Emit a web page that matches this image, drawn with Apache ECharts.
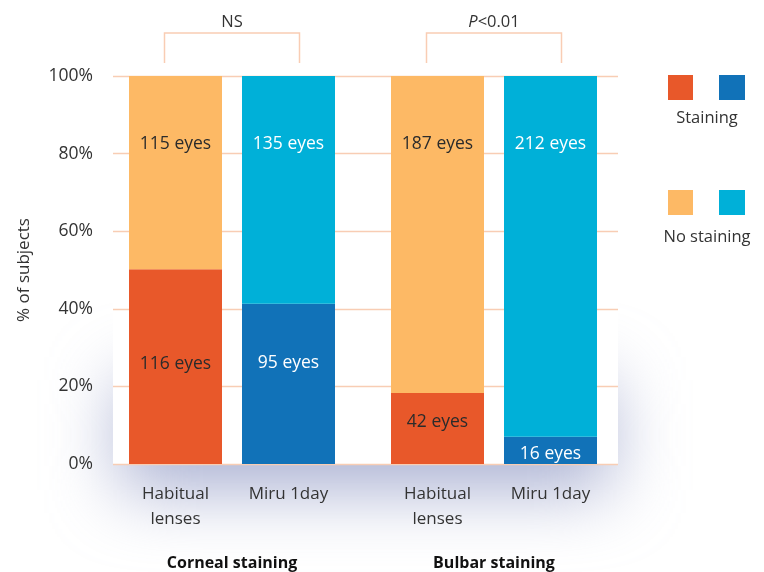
<!DOCTYPE html>
<html>
<head>
<meta charset="utf-8">
<script src="https://cdn.jsdelivr.net/npm/echarts@6/dist/echarts.min.js"></script>
<style>
html,body{margin:0;padding:0;background:#fff}
#wrap{position:relative;width:764px;height:572px;overflow:hidden;background:#fff}
/* soft bluish glow behind the plot panel */
#glow{position:absolute;left:120px;top:380px;width:490px;height:110px;
      background:rgba(140,150,195,0.75);filter:blur(35px)}
#panel{position:absolute;left:113px;top:76px;width:505px;height:388px;background:#fff}
#main{position:absolute;left:0;top:0;width:764px;height:572px}
</style>
</head>
<body>
<div id="wrap">
<div id="glow"></div>
<div id="panel"></div>
<div id="main"></div>
</div>
<script>
// categories
var lensNames = ['Habitual\nlenses', 'Miru 1day'];
var groupNames = ['Corneal staining', 'Bulbar staining'];
var pLabels = ['NS', '{i|P}<0.01'];

// % of subjects
var cornealStain = [50.2, 41.3];
var cornealNoStain = [49.8, 58.7];
var bulbarStain = [18.3, 7.0];
var bulbarNoStain = [81.7, 93.0];

// eye counts written on the bars
var cornealStainEyes = [116, 95];
var cornealNoStainEyes = [115, 135];
var bulbarStainEyes = [42, 16];
var bulbarNoStainEyes = [187, 212];

var stainColors = ['#e8582a', '#1172b8'];
var noStainColors = ['#fdb965', '#00b0d8'];
var stainText = ['#2b2b2b', '#ffffff'];
var noStainText = ['#2b2b2b', '#ffffff'];

var FONT = 'Open Sans';
var GRID_TOP = 76, GRID_BOTTOM = 108;

var chart = echarts.init(document.getElementById('main'));

function buildSeries(gi, stain, noStain, stainEyes, noStainEyes, offs) {
    var sData = [], nData = [];
    for (var i = 0; i < stain.length; i++) {
        sData.push({
            value: stain[i],
            itemStyle: {color: stainColors[i]},
            label: {color: stainText[i], offset: offs[i]},
            eyes: stainEyes[i]
        });
        nData.push({
            value: noStain[i],
            itemStyle: {color: noStainColors[i]},
            label: {color: noStainText[i]},
            eyes: noStainEyes[i]
        });
    }
    var fmt = function (p) { return p.data.eyes + ' eyes'; };
    return [{
        name: 'Staining',
        type: 'bar',
        stack: 'g' + gi,
        xAxisIndex: gi,
        yAxisIndex: gi,
        barWidth: 93,
        data: sData,
        label: {show: true, position: 'inside', fontFamily: FONT, fontSize: 17.5, formatter: fmt}
    }, {
        name: 'No staining',
        type: 'bar',
        stack: 'g' + gi,
        xAxisIndex: gi,
        yAxisIndex: gi,
        barWidth: 93,
        data: nData,
        label: {show: true, position: 'insideTop', distance: 59, fontFamily: FONT, fontSize: 17.5, formatter: fmt}
    }];
}

function groupXAxis(gi, name) {
    return {
        gridIndex: gi,
        type: 'category',
        data: lensNames,
        axisLine: {show: false},
        axisTick: {show: false},
        axisLabel: {fontFamily: FONT, fontSize: 17, color: '#333', margin: 18, lineHeight: 25},
        name: name,
        nameLocation: 'middle',
        nameGap: 91,
        nameTextStyle: {fontFamily: FONT, fontSize: 16, fontWeight: 'bold', color: '#111'}
    };
}

function hiddenY(gi) {
    return {gridIndex: gi, type: 'value', min: 0, max: 100, show: false};
}

function gridAt(left, width) {
    var o = {top: GRID_TOP, bottom: GRID_BOTTOM, left: left, outerBoundsMode: 'none', containLabel: false};
    if (width) o.width = width; else o.right = 146;
    return o;
}

var series = []
    .concat(buildSeries(1, cornealStain, cornealNoStain, cornealStainEyes, cornealNoStainEyes, [[0, -3], [0, -21]]))
    .concat(buildSeries(2, bulbarStain, bulbarNoStain, bulbarStainEyes, bulbarNoStainEyes, [[0, -6], [0, 4]]));

chart.setOption({
    animation: false,
    textStyle: {fontFamily: FONT},
    grid: [gridAt(113), gridAt(119, 226), gridAt(381, 226)],
    xAxis: [
        {gridIndex: 0, type: 'value', show: false},
        groupXAxis(1, groupNames[0]),
        groupXAxis(2, groupNames[1])
    ],
    yAxis: [
        {
            gridIndex: 0,
            type: 'value',
            min: 0, max: 100, interval: 20,
            axisLine: {show: false},
            axisTick: {show: false},
            axisLabel: {formatter: '{value}%', fontFamily: FONT, fontSize: 17.5, color: '#333', margin: 20},
            splitLine: {lineStyle: {color: '#f8cdb4', width: 1.3}},
            name: '% of subjects',
            nameLocation: 'middle',
            nameRotate: 90,
            nameGap: 80,
            nameTextStyle: {fontFamily: FONT, fontSize: 17, color: '#333'}
        },
        hiddenY(1),
        hiddenY(2)
    ],
    series: series
});

// annotations: brackets and legend swatches
var g = [];
[1, 2].forEach(function (gi, k) {
    var a = chart.convertToPixel({xAxisIndex: gi, yAxisIndex: gi}, [0, 100]);
    var b = chart.convertToPixel({xAxisIndex: gi, yAxisIndex: gi}, [1, 100]);
    var l = a[0] - 11, r = b[0] + 11, t = a[1] - 43, lb = a[1] - 13;
    g.push({
        type: 'polyline',
        shape: {points: [[l, lb], [l, t], [r, t], [r, lb]]},
        style: {stroke: '#f9cdb4', lineWidth: 1.5, fill: null}
    });
    g.push({
        type: 'text',
        x: (l + r) / 2, y: t - 11,
        style: {
            text: pLabels[k], align: 'center', verticalAlign: 'middle',
            fontFamily: FONT, fontSize: 16.5, fill: '#333',
            rich: {i: {fontStyle: 'italic', fontFamily: FONT, fontSize: 16.5, fill: '#333'}}
        }
    });
});

var legendRows = [
    {y: 75, ty: 118, colors: stainColors, text: 'Staining'},
    {y: 190, ty: 237, colors: noStainColors, text: 'No staining'}
];
legendRows.forEach(function (row) {
    g.push({type: 'rect', shape: {x: 668, y: row.y, width: 25, height: 25}, style: {fill: row.colors[0]}});
    g.push({type: 'rect', shape: {x: 719, y: row.y, width: 26, height: 25}, style: {fill: row.colors[1]}});
    g.push({
        type: 'text', x: 707, y: row.ty,
        style: {text: row.text, align: 'center', verticalAlign: 'middle', fontFamily: FONT, fontSize: 16.5, fill: '#333'}
    });
});

chart.setOption({graphic: g});
</script>
</body>
</html>
